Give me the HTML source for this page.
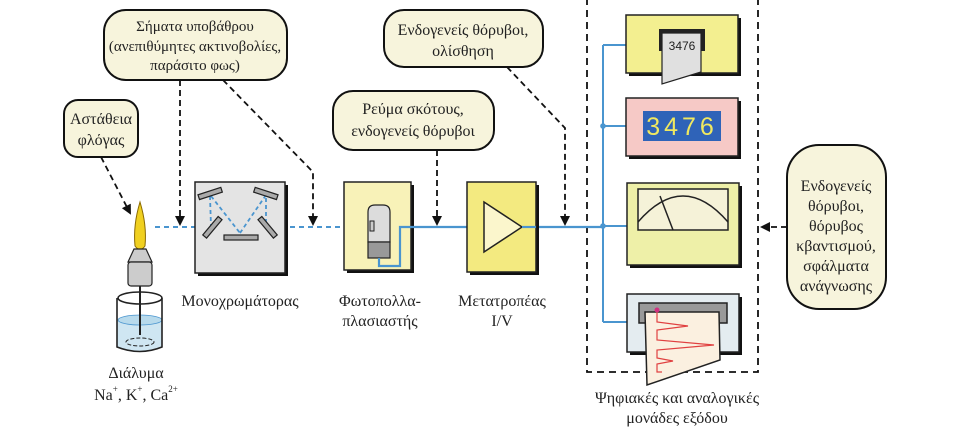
<!DOCTYPE html>
<html><head><meta charset="utf-8"><style>
html,body{margin:0;padding:0;background:#fff;width:953px;height:427px;overflow:hidden}
svg text{font-family:"Liberation Serif","DejaVu Serif",serif;fill:#222}
</style></head><body>
<svg width="953" height="427" viewBox="0 0 953 427" xmlns="http://www.w3.org/2000/svg">
<defs>
<marker id="ah" markerWidth="10" markerHeight="10" refX="8" refY="5" orient="auto" markerUnits="userSpaceOnUse"><path d="M0,0 L10,5 L0,10 z" fill="#111"/></marker>
</defs>
<g fill="#f7f4dc" stroke="#111" stroke-width="2">
<rect x="104" y="10" width="183" height="70" rx="22"/>
<rect x="64" y="100" width="74" height="57" rx="14"/>
<rect x="384" y="10" width="159" height="57" rx="20"/>
<rect x="333" y="91" width="161" height="59" rx="20"/>
<rect x="787" y="145" width="99" height="164" rx="32"/>
</g>
<g font-size="15" text-anchor="middle">
<text x="195" y="31">Σήματα υποβάθρου</text>
<text x="195" y="51">(ανεπιθύμητες ακτινοβολίες,</text>
<text x="195" y="70">παράσιτο φως)</text>
</g>
<g font-size="16" text-anchor="middle">
<text x="101" y="124">Αστάθεια</text>
<text x="101" y="145">φλόγας</text>
<text x="463" y="35">Ενδογενείς θόρυβοι,</text>
<text x="463" y="56">ολίσθηση</text>
<text x="413" y="114">Ρεύμα σκότους,</text>
<text x="413" y="136">ενδογενείς θόρυβοι</text>
<text x="836" y="191">Ενδογενείς</text>
<text x="836" y="211">θόρυβοι,</text>
<text x="836" y="231">θόρυβος</text>
<text x="836" y="251">κβαντισμού,</text>
<text x="836" y="271">σφάλματα</text>
<text x="836" y="291">ανάγνωσης</text>
<text x="240" y="306">Μονοχρωμάτορας</text>
<text x="380" y="306">Φωτοπολλα-</text>
<text x="380" y="326">πλασιαστής</text>
<text x="502" y="306">Μετατροπέας</text>
<text x="502" y="326">I/V</text>
<text x="136" y="378">Διάλυμα</text>
<text x="136" y="400">Na<tspan font-size="9" dy="-8">+</tspan><tspan dy="8">, K</tspan><tspan font-size="9" dy="-8">+</tspan><tspan dy="8">, Ca</tspan><tspan font-size="9" dy="-8">2+</tspan></text>
<text x="677" y="403">Ψηφιακές και αναλογικές</text>
<text x="677" y="423">μονάδες εξόδου</text>
</g>
<g fill="none" stroke="#111" stroke-width="1.8" stroke-dasharray="6,4" marker-end="url(#ah)">
<path d="M101,157 L130,213"/>
<path d="M180,80 L180,224"/>
<path d="M223,80 L313,172 L313,224"/>
<path d="M437,150 L437,224"/>
<path d="M507,67 L565,128 L565,224"/>
<path d="M787,227 L762,227"/>
</g>
<path d="M587,-2 L587,372 L758,372 L758,-2" fill="none" stroke="#111" stroke-width="1.8" stroke-dasharray="7,5"/>
<path d="M155,227 L345,227" stroke="#4a95cf" stroke-width="2" stroke-dasharray="5,4"/>
<rect x="198" y="185" width="90" height="91" fill="#111"/>
<rect x="195" y="182" width="90" height="91" fill="#e4e4e4" stroke="#222" stroke-width="1.5"/>
<g stroke="#4a95cf" stroke-width="1.8" stroke-dasharray="4,3" fill="none">
<path d="M210,196 L211,227 M211,196 L240,233 M240,233 L266,195 L266,224"/>
</g>
<g fill="#aaa" stroke="#222" stroke-width="1.2">
<rect x="198" y="191" width="24" height="5" transform="rotate(-18 210 193)"/>
<rect x="254" y="191" width="24" height="5" transform="rotate(18 266 193)"/>
<rect x="200" y="225" width="24" height="5" transform="rotate(-50 212 227)"/>
<rect x="256" y="225" width="24" height="5" transform="rotate(50 268 227)"/>
<rect x="224" y="235" width="34" height="5"/>
</g>
<rect x="347" y="185" width="67" height="88" fill="#111"/>
<rect x="344" y="182" width="67" height="88" fill="#f8f2b8" stroke="#222" stroke-width="1.5"/>
<path d="M368,242 L368,212 Q368,205 375,205 L383,205 Q390,205 390,212 L390,242 z" fill="#dcdcdc" stroke="#222" stroke-width="1.2"/>
<rect x="370" y="221" width="4" height="10" fill="#ccc" stroke="#222"/>
<rect x="368" y="242" width="22" height="16" fill="#999" stroke="#222" stroke-width="1.2"/>
<path d="M379,258 L379,266 L400,266 L400,227 L603,227" fill="none" stroke="#4a95cf" stroke-width="2.2"/>
<rect x="470" y="185" width="69" height="90" fill="#111"/>
<rect x="467" y="182" width="69" height="90" fill="#f3ea80" stroke="#222" stroke-width="1.5"/>
<path d="M484,202 L522,227 L484,252 z" fill="#fbf6cc" stroke="#222" stroke-width="1.5"/>
<path d="M522,227 L536,227" stroke="#4a95cf" stroke-width="2.2"/>
<path d="M603,45 L603,322 M603,45 L626,45 M603,126 L626,126 M603,226 L627,226 M603,322 L627,322" stroke="#4a95cf" stroke-width="2" fill="none"/>
<circle cx="603" cy="126" r="2.8" fill="#4a95cf"/><circle cx="603" cy="226" r="2.8" fill="#4a95cf"/>
<rect x="629" y="18" width="112" height="58" fill="#111"/>
<rect x="626" y="15" width="112" height="58" fill="#f3ef90" stroke="#222" stroke-width="1.5"/>
<rect x="659" y="29" width="46" height="22" fill="#222"/>
<path d="M662,33 L701,33 L701,72 L662,84 z" fill="#e0e0e0" stroke="#222" stroke-width="1.2"/>
<text x="682" y="50" font-size="12" text-anchor="middle" style="font-family:'Liberation Sans',sans-serif">3476</text>
<rect x="629" y="101" width="112" height="58" fill="#111"/>
<rect x="626" y="98" width="112" height="58" fill="#f6c9c6" stroke="#222" stroke-width="1.5"/>
<rect x="643" y="111" width="78" height="30" fill="#2f63b8"/>
<text x="682" y="135" font-size="25" text-anchor="middle" letter-spacing="4" style="font-family:'Liberation Sans',sans-serif;fill:#f0e860">3476</text>
<rect x="630" y="186" width="112" height="82" fill="#111"/>
<rect x="627" y="183" width="112" height="82" fill="#eef0a8" stroke="#222" stroke-width="1.5"/>
<rect x="638" y="189" width="90" height="41" fill="#f5f2d8" stroke="#222" stroke-width="1.5"/>
<path d="M638,222 Q683,170 728,222" fill="none" stroke="#222" stroke-width="1.5"/>
<path d="M660,196 L673,230" stroke="#222" stroke-width="1.5"/>
<rect x="630" y="297" width="112" height="58" fill="#111"/>
<rect x="627" y="294" width="112" height="58" fill="#e4ecf0" stroke="#222" stroke-width="1.5"/>
<rect x="639" y="303" width="88" height="20" fill="#999" stroke="#222" stroke-width="1.5"/>
<path d="M645,312 L719,312 L720,360 L647,385 z" fill="#fbf0e0" stroke="#222" stroke-width="1.5"/>
<path d="M657,310 L657,322 L688,326 L657,330 L657,340 L714,345 L657,350 L657,358 L673,361 L657,364 L657,372 L662,372" fill="none" stroke="#e04040" stroke-width="1.2"/>
<circle cx="657" cy="310" r="2.5" fill="#d03080"/>
<path d="M140,202 Q147,225 145,246 Q140,253 135,246 Q133,225 140,202 z" fill="#f0d020" stroke="#8a6a00" stroke-width="1"/>
<path d="M134,249 L146,249 L152,262 L128,262 z" fill="#ccc" stroke="#222" stroke-width="1.2"/>
<rect x="128" y="262" width="24" height="24" rx="3" fill="#ccc" stroke="#222" stroke-width="1.2"/>
<path d="M117,320 L117,347 Q140,356 162,347 L162,320 z" fill="#cfe6f2"/>
<ellipse cx="140" cy="320" rx="22" ry="5" fill="#b8daec" stroke="#4a95cf" stroke-width="0.8"/>
<path d="M117,298 L117,347 Q140,356 162,347 L162,298" fill="none" stroke="#222" stroke-width="1.6"/>
<ellipse cx="140" cy="298" rx="22" ry="6" fill="none" stroke="#222" stroke-width="1.6"/>
<ellipse cx="140" cy="342" rx="14" ry="4" fill="none" stroke="#222" stroke-width="1" stroke-dasharray="4,2"/>
<path d="M140,286 L140,335" stroke="#222" stroke-width="2"/>
</svg>
</body></html>
